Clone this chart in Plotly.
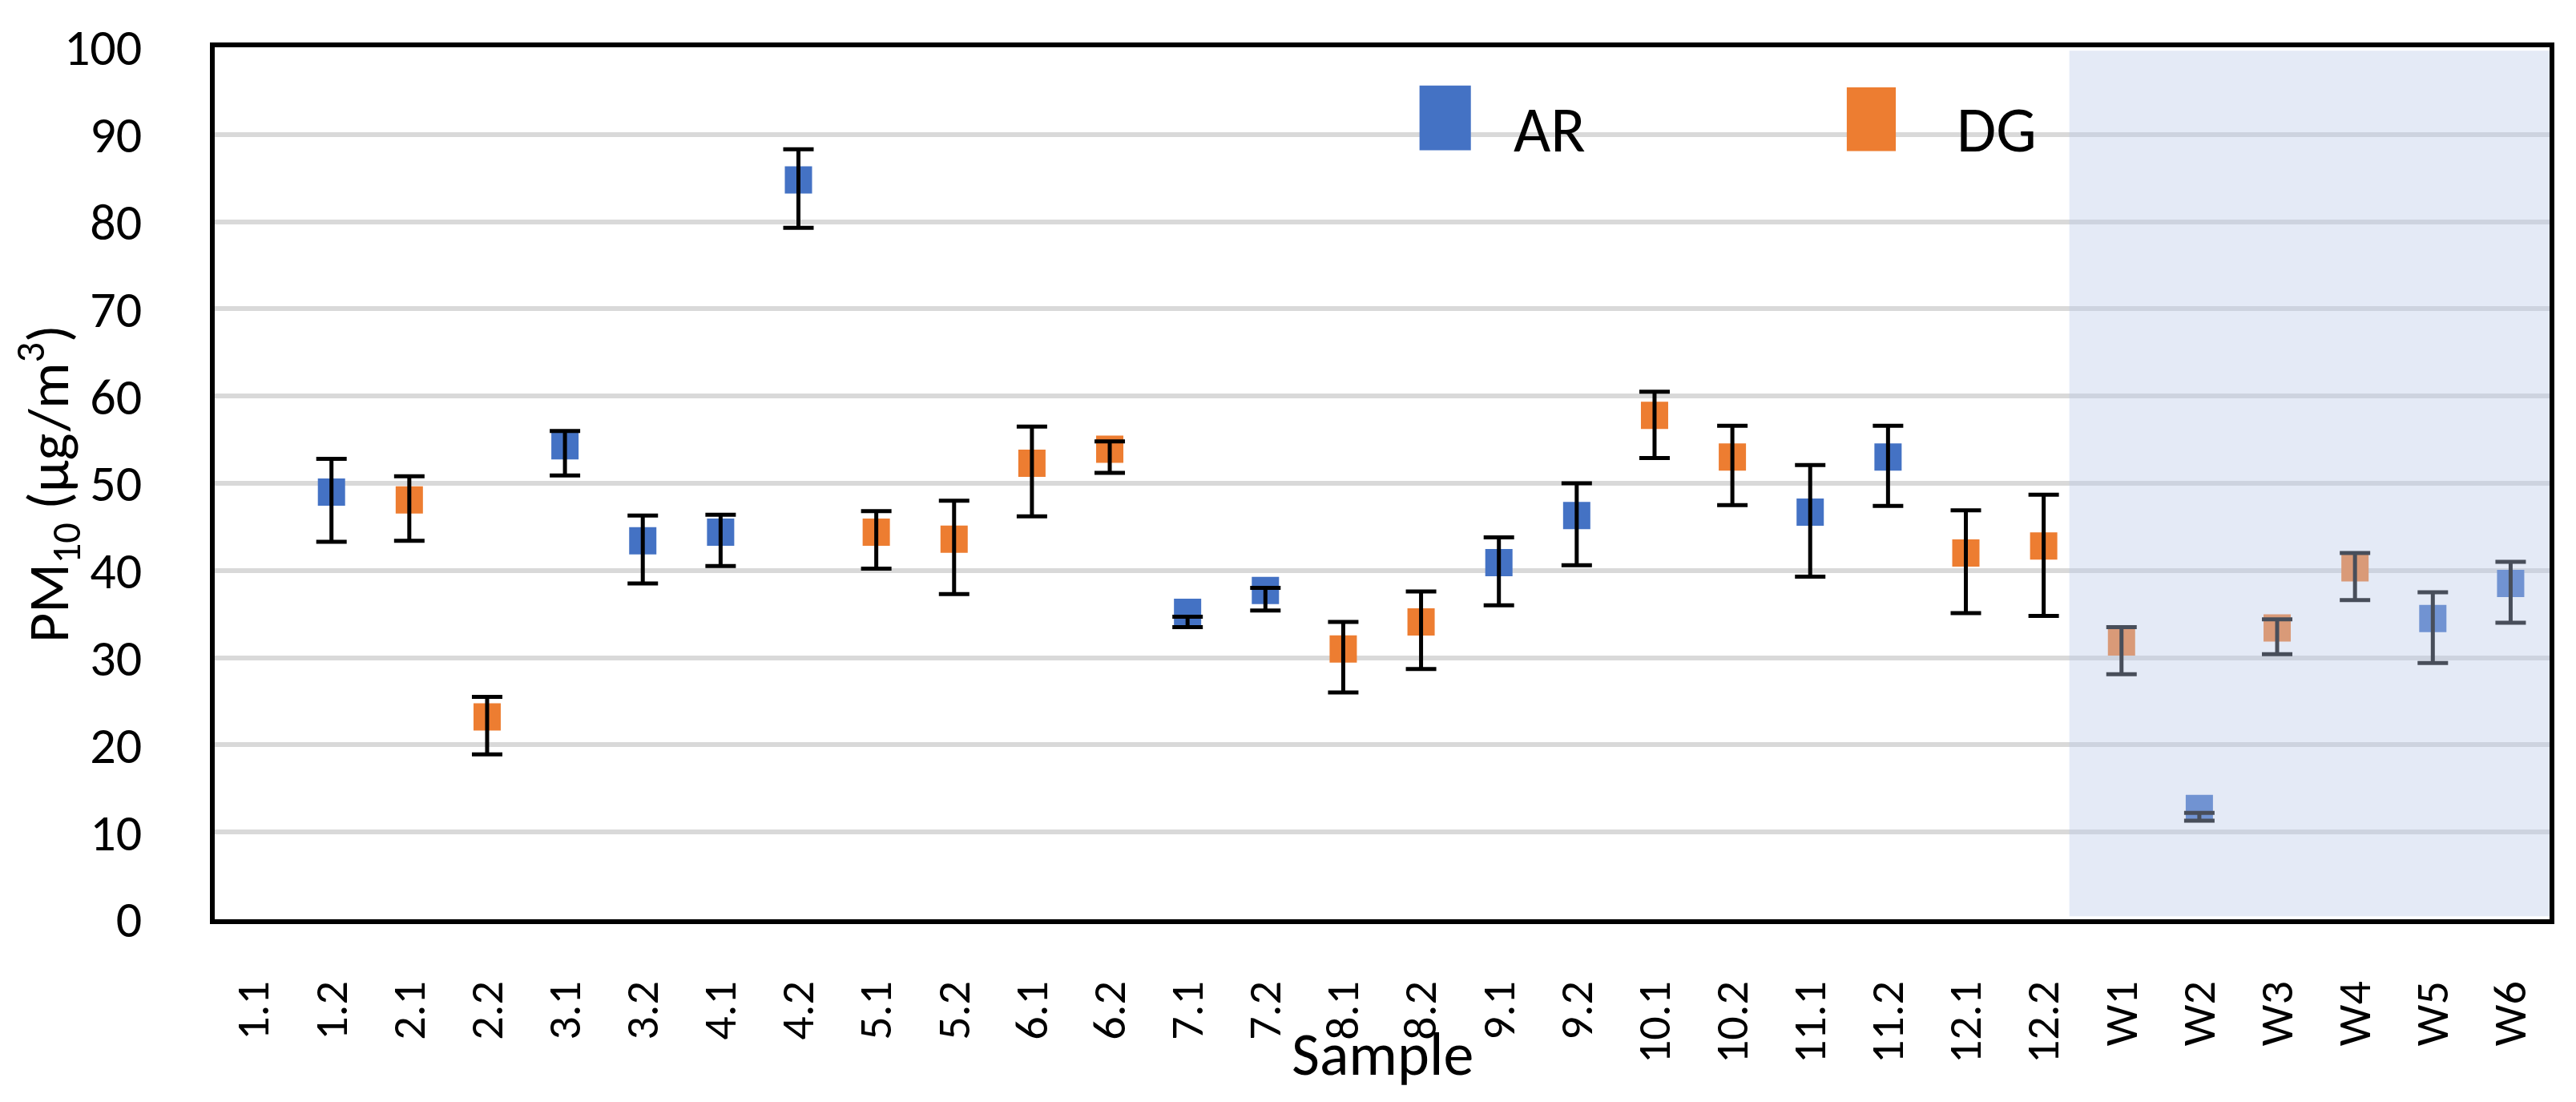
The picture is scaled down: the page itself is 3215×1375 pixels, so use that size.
import plotly.graph_objects as go

categories = ["1.1", "1.2", "2.1", "2.2", "3.1", "3.2", "4.1", "4.2", "5.1", "5.2",
              "6.1", "6.2", "7.1", "7.2", "8.1", "8.2", "9.1", "9.2", "10.1", "10.2",
              "11.1", "11.2", "12.1", "12.2", "W1", "W2", "W3", "W4", "W5", "W6"]

# AR series (blue): value, error-bar top, error-bar bottom
ar_val = [None, 49.0, None, None, 54.3, 43.4, 44.4, 84.8, None, None,
          None, None, 35.2, 37.7, None, None, 40.9, 46.3, None, None,
          46.7, 53.0, None, None, None, 12.7, None, None, 34.5, 38.5]
ar_hi = [None, 52.8, None, None, 56.0, 46.3, 46.4, 88.3, None, None,
         None, None, 34.7, 38.0, None, None, 43.8, 50.0, None, None,
         52.1, 56.6, None, None, None, 12.2, None, None, 37.5, 41.0]
ar_lo = [None, 43.3, None, None, 50.9, 38.5, 40.5, 79.3, None, None,
         None, None, 33.5, 35.4, None, None, 36.0, 40.6, None, None,
         39.3, 47.4, None, None, None, 11.3, None, None, 29.4, 34.0]

# DG series (orange)
dg_val = [None, None, 48.1, 23.2, None, None, None, None, 44.4, 43.6,
          52.3, 53.9, None, None, 31.0, 34.1, None, None, 57.8, 53.0,
          None, None, 42.0, 42.8, 31.8, None, 33.4, 40.3, None, None]
dg_hi = [None, None, 50.8, 25.5, None, None, None, None, 46.8, 48.0,
         56.5, 54.8, None, None, 34.1, 37.6, None, None, 60.5, 56.6,
         None, None, 46.9, 48.7, 33.5, None, 34.4, 42.0, None, None]
dg_lo = [None, None, 43.4, 18.9, None, None, None, None, 40.2, 37.3,
         46.2, 51.2, None, None, 26.0, 28.7, None, None, 52.9, 47.5,
         None, None, 35.1, 34.8, 28.1, None, 30.4, 36.6, None, None]

y_ticks = [0, 10, 20, 30, 40, 50, 60, 70, 80, 90, 100]

AR_COLOR = "#4472C4"
DG_COLOR = "#ED7D31"
FONT = "Carlito, Calibri, Lato, 'Open Sans', sans-serif"

fig = go.Figure()

def mid(hi, lo):
    return [None if h is None else (h + l) / 2 for h, l in zip(hi, lo)]

def half(hi, lo):
    return [None if h is None else abs(h - l) / 2 for h, l in zip(hi, lo)]

for name, vals, col in [("AR", ar_val, AR_COLOR), ("DG", dg_val, DG_COLOR)]:
    fig.add_trace(go.Scatter(
        x=categories, y=vals, mode="markers", name=name, showlegend=False,
        marker=dict(symbol="square", size=34, color=col, line=dict(width=0)),
    ))

for name, hi, lo in [("AR", ar_hi, ar_lo), ("DG", dg_hi, dg_lo)]:
    fig.add_trace(go.Scatter(
        x=categories, y=mid(hi, lo), mode="markers", name=name + " error",
        showlegend=False, hoverinfo="skip", marker=dict(size=1, opacity=0),
        error_y=dict(type="data", array=half(hi, lo), symmetric=True,
                     color="black", thickness=5, width=19, visible=True),
    ))

# shaded "W" region
fig.add_shape(type="rect", xref="x", yref="y", x0=23.33, x1=29.56, y0=0.35, y1=99.6,
              fillcolor="rgb(186,201,232)", opacity=0.39, line=dict(width=0), layer="above")

# legend swatches + labels
fig.add_shape(type="rect", xref="paper", yref="paper", x0=0.516, x1=0.538, y0=0.882, y1=0.956,
              fillcolor=AR_COLOR, line=dict(width=0))
fig.add_shape(type="rect", xref="paper", yref="paper", x0=0.699, x1=0.720, y0=0.881, y1=0.954,
              fillcolor=DG_COLOR, line=dict(width=0))
fig.add_annotation(text="AR", xref="paper", yref="paper", x=0.5556, y=0.906,
                   xanchor="left", yanchor="middle", showarrow=False,
                   font=dict(family=FONT, size=80, color="black"))
fig.add_annotation(text="DG", xref="paper", yref="paper", x=0.7454, y=0.906,
                   xanchor="left", yanchor="middle", showarrow=False,
                   font=dict(family=FONT, size=80, color="black"))

# axis titles
fig.add_annotation(text="PM<sub>10</sub> (µg/m<sup>3</sup>)", xref="paper", yref="paper",
                   x=-0.0714, y=0.5, textangle=-90, xanchor="center", yanchor="middle",
                   showarrow=False, font=dict(family=FONT, size=72, color="black"))
fig.add_annotation(text="Sample", xref="paper", yref="paper", x=0.5, y=-0.154,
                   xanchor="center", yanchor="middle", showarrow=False,
                   font=dict(family=FONT, size=76, color="black"))

fig.update_xaxes(
    type="category", categoryorder="array", categoryarray=categories,
    range=[-0.5, 29.5], showgrid=False, showline=True, linecolor="black", linewidth=6,
    mirror=True, ticks="", tickangle=-90, ticklabelstandoff=48, ticklabeloverflow="allow",
    tickfont=dict(family=FONT, size=58, color="black"), zeroline=False,
)
fig.update_yaxes(
    range=[0, 100], tickvals=y_ticks, showgrid=True, gridcolor="#D9D9D9", gridwidth=6,
    showline=True, linecolor="black", linewidth=6, mirror=True, ticks="",
    ticklabelstandoff=72, ticklabeloverflow="allow",
    tickfont=dict(family=FONT, size=64, color="black"), zeroline=False,
)

# page body has an 8px default margin, so the figure is 16px smaller than the window
fig.update_layout(
    width=3199, height=1359,
    margin=dict(l=260, r=25, t=34, b=220),
    plot_bgcolor="white", paper_bgcolor="white",
    showlegend=False,
    font=dict(family=FONT, color="black"),
)

fig.write_html("out.html")
